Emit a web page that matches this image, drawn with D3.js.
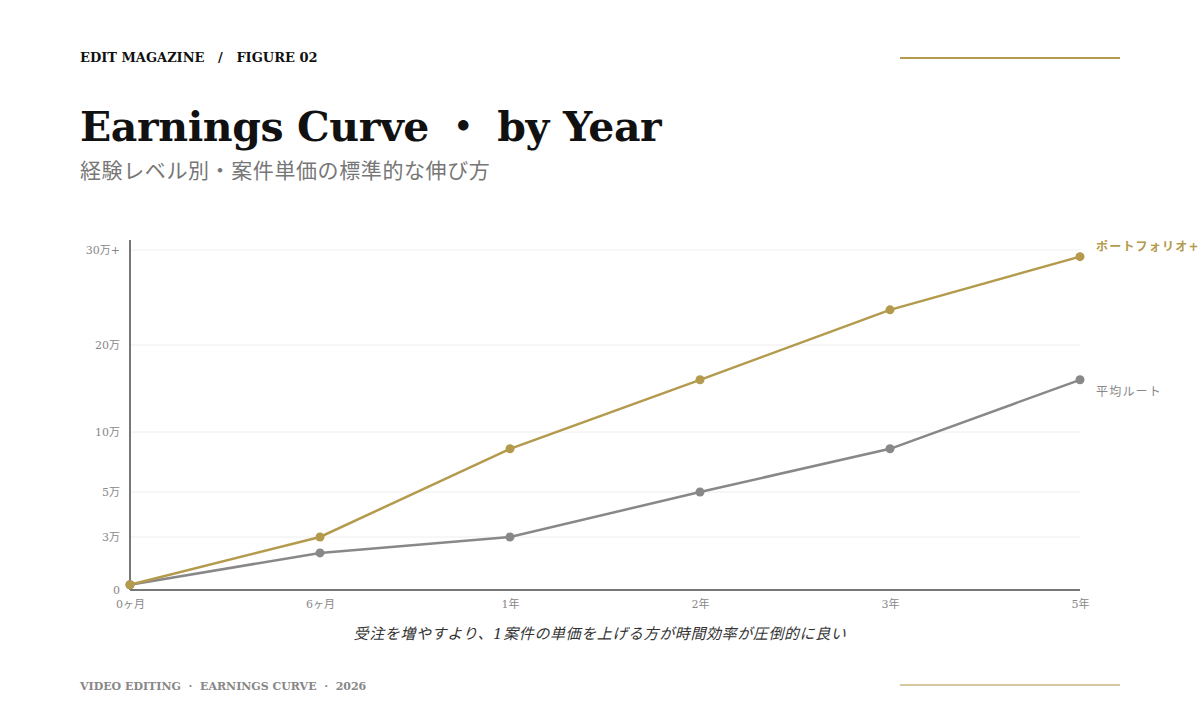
<!DOCTYPE html>
<html>
<head>
<meta charset="utf-8">
<script src="https://cdn.jsdelivr.net/npm/d3@7"></script>
<style>
  html, body { margin: 0; padding: 0; background: #fff; }
  #chart { width: 1200px; height: 720px; overflow: hidden; }
  text { font-family: Georgia, "DejaVu Serif", "Noto Sans CJK JP", serif; }
</style>
</head>
<body>
<div id="chart"></div>
<script>
// categories and values (unit: 万円)
const periods = ["0ヶ月", "6ヶ月", "1年", "2年", "3年", "5年"];
const portfolioValues = [0.3, 3, 8.6, 16, 23.7, 29.3];
const averageValues = [0.3, 2.1, 3, 5, 8.6, 16];
const seriesNames = ["ポートフォリオ+専門特化", "平均ルート"];

// y ticks (unevenly spaced on purpose)
const yTickValues = [0, 3, 5, 10, 20, 30];
const yTickLabels = ["0", "3万", "5万", "10万", "20万", "30万+"];
const yTickPositions = [590, 537, 492, 432, 345, 250];

const gold = "#b39a4d";
const grey = "#888888";

const width = 1200, height = 720;

let svg = d3.select("#chart")
    .append("svg")
    .attr("width", width)
    .attr("height", height);

// header
svg.append("text")
    .attr("x", 80).attr("y", 62)
    .attr("font-size", 13).attr("font-weight", "bold")
    .attr("fill", "#111")
    .attr("xml:space", "preserve")
    .text("EDIT MAGAZINE   /   FIGURE 02");

svg.append("line")
    .attr("x1", 900).attr("x2", 1120)
    .attr("y1", 58).attr("y2", 58)
    .attr("stroke", gold).attr("stroke-width", 2);

svg.append("text")
    .attr("x", 80).attr("y", 141)
    .attr("font-size", 41).attr("font-weight", "bold")
    .attr("letter-spacing", -0.4)
    .attr("fill", "#111")
    .text("Earnings Curve ・ by Year");

svg.append("text")
    .attr("x", 80).attr("y", 178)
    .attr("font-size", 21)
    .attr("letter-spacing", 0.6)
    .attr("fill", "#777")
    .text("経験レベル別・案件単価の標準的な伸び方");

// scales
const x = d3.scalePoint()
    .domain(periods)
    .range([130, 1080]);

// polylinear scale: tick values map to fixed positions
const y = d3.scaleLinear()
    .domain(yTickValues)
    .range(yTickPositions);

let g = svg.append("g");

// grid
g.selectAll("line.grid")
    .data(yTickValues.slice(1))
    .enter()
    .append("line")
    .attr("class", "grid")
    .attr("x1", 130).attr("x2", 1080)
    .attr("y1", d => y(d)).attr("y2", d => y(d))
    .attr("stroke", "#eeeeee").attr("stroke-width", 1);

// y axis
const yAxis = d3.axisLeft(y)
    .tickValues(yTickValues)
    .tickSize(0)
    .tickPadding(10)
    .tickFormat((d, i) => yTickLabels[i]);

let yg = g.append("g")
    .attr("transform", "translate(130,0)")
    .call(yAxis);
yg.select(".domain").remove();
yg.selectAll("text")
    .attr("font-size", 11)
    .attr("fill", "#888")
    .style("font-family", 'Georgia, "DejaVu Serif", "Noto Sans CJK JP", serif');

g.append("line")
    .attr("x1", 130).attr("x2", 130)
    .attr("y1", 240).attr("y2", 590)
    .attr("stroke", "#777").attr("stroke-width", 2);

// x axis
const xAxis = d3.axisBottom(x)
    .tickSize(0)
    .tickPadding(10);

let xg = g.append("g")
    .attr("transform", "translate(0,590)")
    .call(xAxis);
xg.select(".domain").remove();
xg.selectAll("text")
    .attr("font-size", 11)
    .attr("fill", "#888")
    .style("font-family", 'Georgia, "DejaVu Serif", "Noto Sans CJK JP", serif');

g.append("line")
    .attr("x1", 130).attr("x2", 1080)
    .attr("y1", 590).attr("y2", 590)
    .attr("stroke", "#777").attr("stroke-width", 2);

// lines
const line = d3.line()
    .x((d, i) => x(periods[i]))
    .y(d => y(d));

const series = [
    { name: seriesNames[1], values: averageValues, color: grey, dy: 16 },
    { name: seriesNames[0], values: portfolioValues, color: gold, dy: -6 }
];

series.forEach(function(s) {
    g.append("path")
        .datum(s.values)
        .attr("fill", "none")
        .attr("stroke", s.color)
        .attr("stroke-width", 2.5)
        .attr("d", line);

    g.selectAll(null)
        .data(s.values)
        .enter()
        .append("circle")
        .attr("cx", (d, i) => x(periods[i]))
        .attr("cy", d => y(d))
        .attr("r", 4.5)
        .attr("fill", s.color);

    const last = s.values[s.values.length - 1];
    g.append("text")
        .attr("x", x(periods[periods.length - 1]) + 16)
        .attr("y", y(last) + s.dy)
        .attr("font-size", 12)
        .attr("font-weight", s.color === gold ? "bold" : "normal")
        .attr("letter-spacing", 1.2)
        .attr("fill", s.color)
        .text(s.name);
});

// caption
svg.append("text")
    .attr("x", 600).attr("y", 639)
    .attr("text-anchor", "middle")
    .attr("font-size", 15)
    .attr("font-style", "italic")
    .attr("letter-spacing", 0.6)
    .attr("fill", "#333")
    .text("受注を増やすより、1案件の単価を上げる方が時間効率が圧倒的に良い");

// footer
svg.append("text")
    .attr("x", 80).attr("y", 690)
    .attr("font-size", 11).attr("font-weight", "bold")
    .attr("fill", "#888")
    .attr("xml:space", "preserve")
    .text("VIDEO EDITING  ·  EARNINGS CURVE  ·  2026");

svg.append("line")
    .attr("x1", 900).attr("x2", 1120)
    .attr("y1", 685).attr("y2", 685)
    .attr("stroke", "#d6c9a1").attr("stroke-width", 2);
</script>
</body>
</html>
